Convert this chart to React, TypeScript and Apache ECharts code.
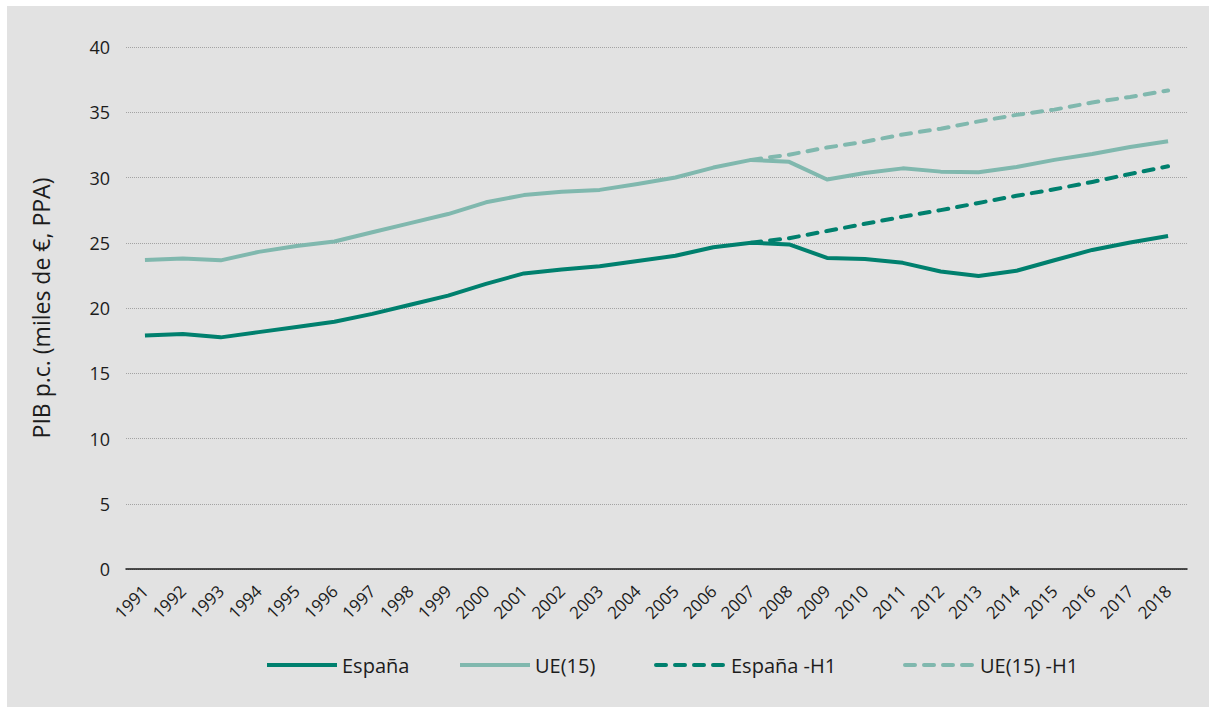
import React, { useEffect, useRef } from "react";
import * as echarts from "echarts";

const years = [
  "1991", "1992", "1993", "1994", "1995", "1996", "1997", "1998", "1999", "2000",
  "2001", "2002", "2003", "2004", "2005", "2006", "2007", "2008", "2009", "2010",
  "2011", "2012", "2013", "2014", "2015", "2016", "2017", "2018",
];

const espana = [
  17.9, 18.0, 17.75, 18.15, 18.55, 18.95, 19.55, 20.25, 20.95, 21.85,
  22.65, 22.95, 23.2, 23.6, 24.0, 24.65, 25.0, 24.87, 23.84, 23.76,
  23.46, 22.8, 22.45, 22.85, 23.66, 24.45, 25.02, 25.52,
];

const ue15 = [
  23.68, 23.8, 23.65, 24.3, 24.75, 25.1, 25.8, 26.5, 27.2, 28.1,
  28.65, 28.9, 29.05, 29.5, 30.0, 30.76, 31.35, 31.2, 29.85, 30.35,
  30.7, 30.45, 30.4, 30.8, 31.35, 31.8, 32.34, 32.78,
];

const espanaH1 = [
  null, null, null, null, null, null, null, null, null, null,
  null, null, null, null, null, null, 25.0, 25.35, 25.9, 26.45,
  27.0, 27.5, 28.05, 28.6, 29.1, 29.66, 30.27, 30.86,
];

const ue15H1 = [
  null, null, null, null, null, null, null, null, null, null,
  null, null, null, null, null, null, 31.35, 31.75, 32.3, 32.74,
  33.3, 33.74, 34.3, 34.8, 35.2, 35.75, 36.17, 36.67,
];

const seriesNames = ["España", "UE(15)", "España -H1", "UE(15) -H1"];
const yTicks = { min: 0, max: 40, interval: 5 };

const DARK = "#00806e";
const LIGHT = "#80b8ae";
const FONT = "'Open Sans', 'Noto Sans', sans-serif";
const TXT = "#1c1c1c";
const LEGEND_X = [260, 453, 649, 898];

export default function App() {
  const ref = useRef<HTMLDivElement>(null);
  useEffect(() => {
    if (!ref.current) return;
    const chart = echarts.init(ref.current, undefined, { renderer: "svg" });
    const mk = (name: string, data: any[], color: string, dashed: boolean) => ({
      name,
      type: "line",
      data,
      symbol: "none",
      connectNulls: false,
      z: dashed ? 1 : 2,
      lineStyle: {
        color,
        width: 4,
        type: dashed ? [10, 9] : "solid",
        cap: dashed ? "round" : "butt",
        join: "round",
      },
      itemStyle: { color },
    });
    chart.setOption({
      animation: false,
      backgroundColor: "transparent",
      textStyle: { fontFamily: FONT, color: TXT },
      grid: { left: 126, right: 22, top: 47, bottom: 138 },
      legend: seriesNames.map((n, i) => ({
        top: 650,
        left: LEGEND_X[i],
        itemWidth: 70,
        itemHeight: 20,
        itemGap: 0,
        itemStyle: { opacity: 0 },
        lineStyle: { width: 4 },
        textStyle: { fontFamily: FONT, fontSize: 20, color: TXT },
        data: [n],
      })),
      xAxis: {
        type: "category",
        data: years,
        boundaryGap: true,
        axisLine: { lineStyle: { color: "#1a1a1a", width: 1.5 } },
        axisTick: { show: false },
        axisLabel: {
          rotate: 45,
          interval: 0,
          margin: 19,
          fontSize: 17,
          color: TXT,
          fontFamily: FONT,
        },
      },
      yAxis: {
        type: "value",
        min: yTicks.min,
        max: yTicks.max,
        interval: yTicks.interval,
        name: "PIB p.c. (miles de €, PPA)",
        nameLocation: "middle",
        nameGap: 74,
        nameTextStyle: { fontSize: 23, color: TXT, fontFamily: FONT },
        axisLine: { show: false },
        axisTick: { show: false },
        axisLabel: { margin: 16, fontSize: 18, color: TXT, fontFamily: FONT },
        splitLine: { lineStyle: { type: "dotted", color: "#a3a3a3", width: 1 } },
      },
      series: [
        mk(seriesNames[0], espana, DARK, false),
        mk(seriesNames[1], ue15, LIGHT, false),
        mk(seriesNames[2], espanaH1, DARK, true),
        mk(seriesNames[3], ue15H1, LIGHT, true),
      ],
    });
    return () => chart.dispose();
  }, []);

  return (
    <div style={{ position: "absolute", left: 0, top: 0, width: 1209, height: 707, background: "#ffffff" }}>
      <div style={{ position: "absolute", left: 7, top: 6, width: 1202, height: 701, background: "#e2e2e2" }} />
      <div ref={ref} style={{ position: "absolute", left: 0, top: 0, width: 1209, height: 707 }} />
    </div>
  );
}
